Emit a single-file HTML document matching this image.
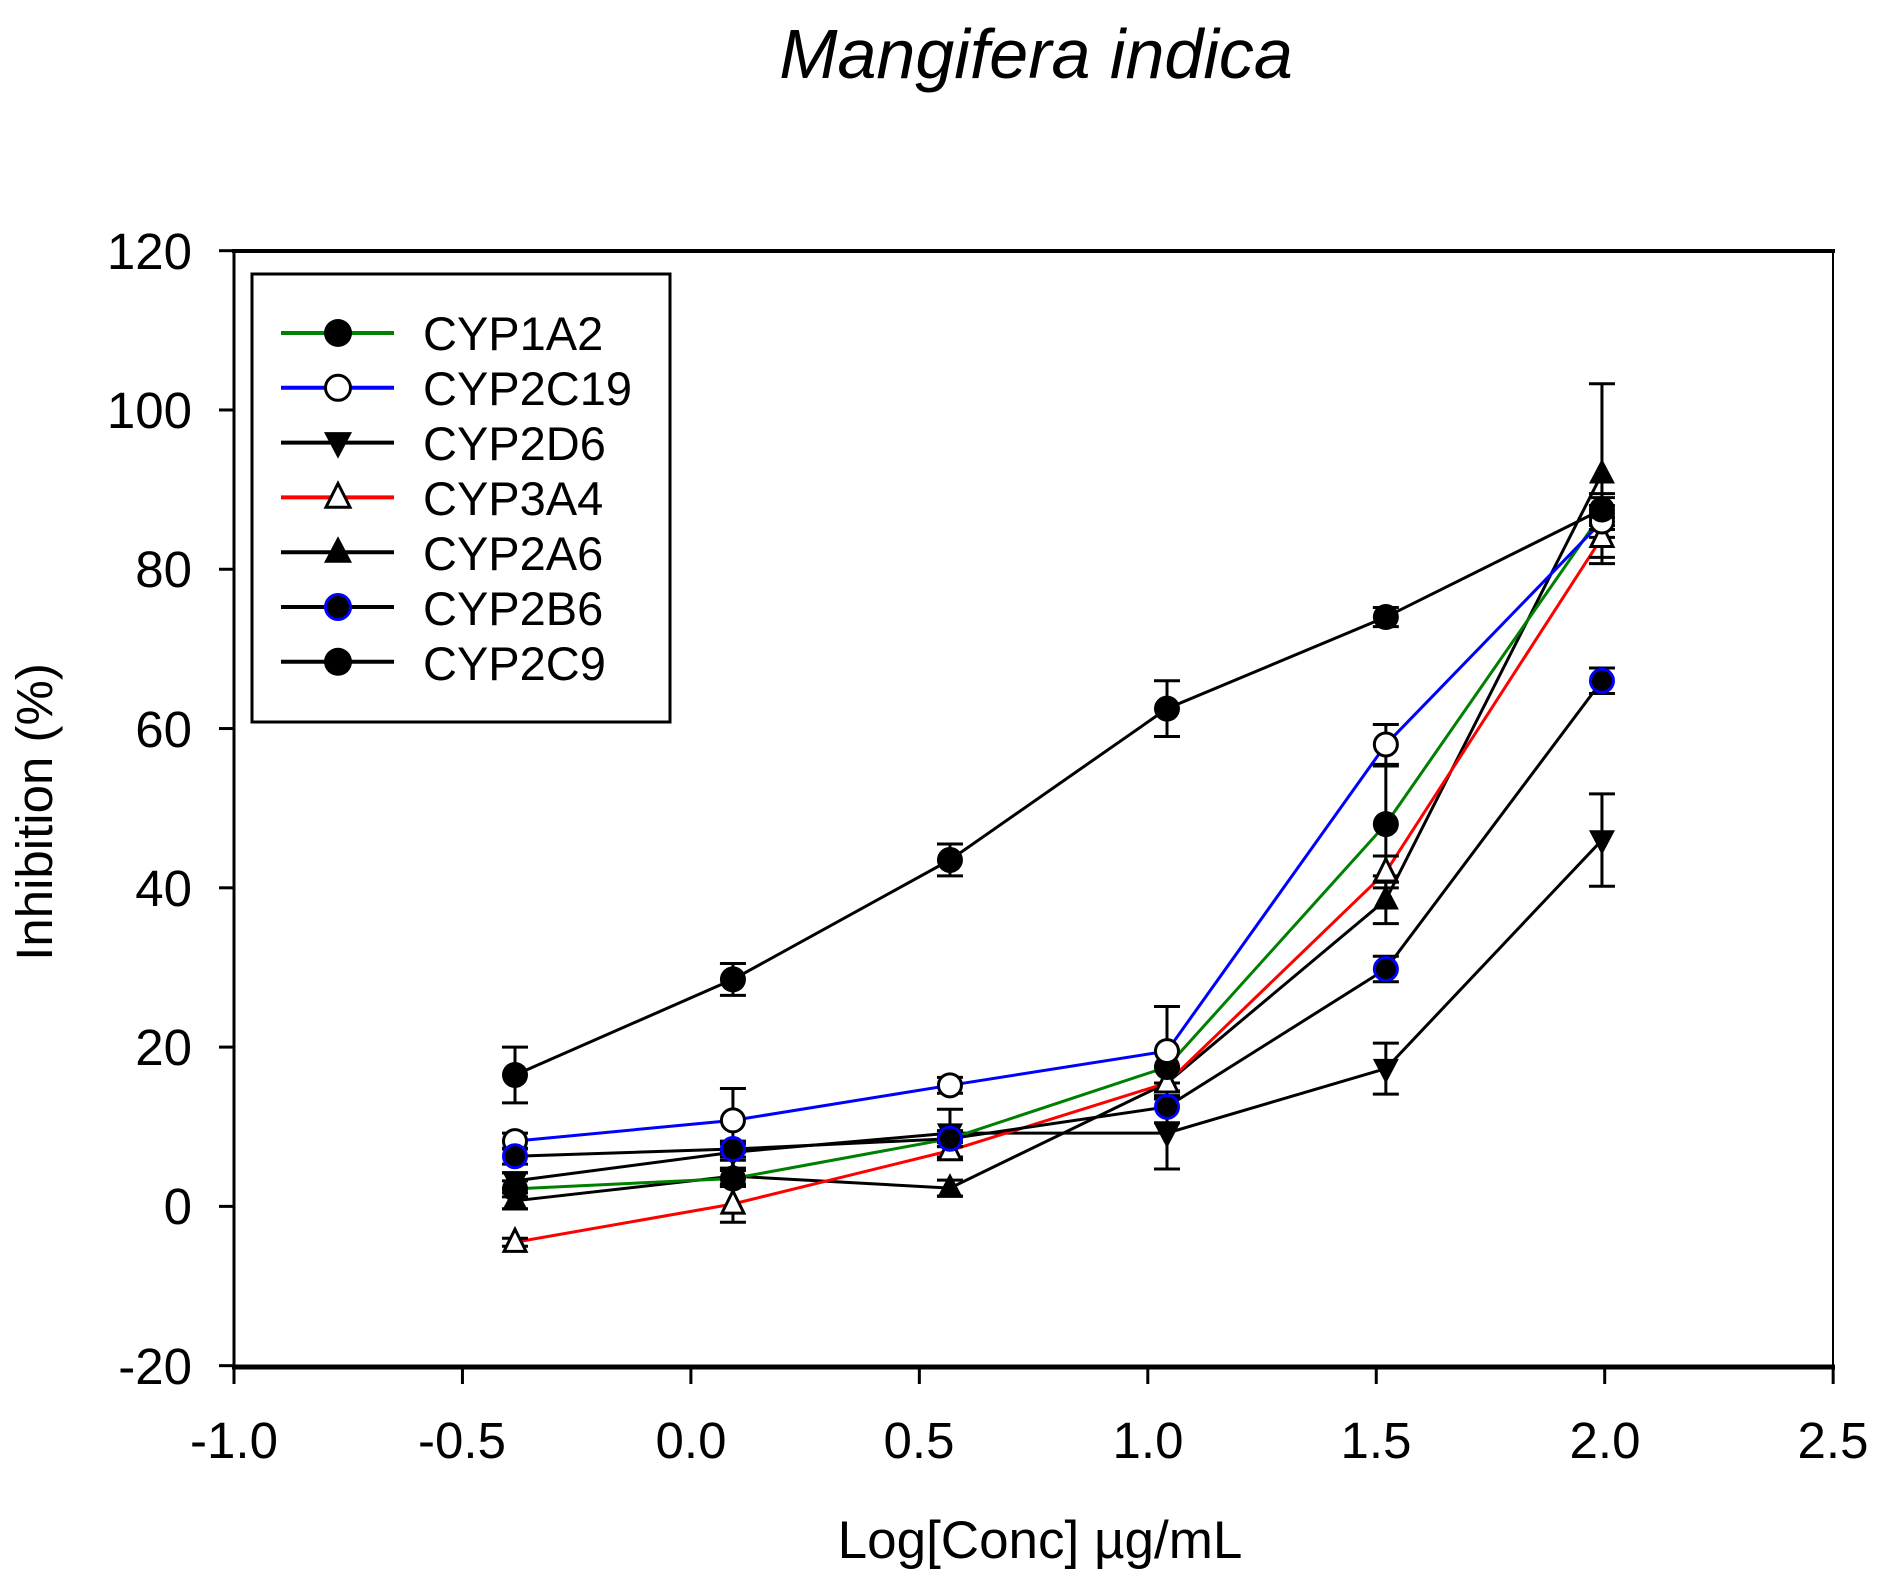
<!DOCTYPE html>
<html><head><meta charset="utf-8"><style>
html,body{margin:0;padding:0;background:#fff;}
svg{display:block;font-family:"Liberation Sans",Arial,sans-serif;}
</style></head><body>
<svg id="s" width="1891" height="1586" viewBox="0 0 1891 1586" xmlns="http://www.w3.org/2000/svg">
<rect width="1891" height="1586" fill="#fff"/>
<text x="1036" y="78" font-size="70" font-style="italic" text-anchor="middle">Mangifera indica</text>
<g stroke="#000" fill="none">
<line x1="232" y1="251" x2="1835" y2="251" stroke-width="4"/>
<line x1="232" y1="1367" x2="1835" y2="1367" stroke-width="5"/>
<line x1="234" y1="249" x2="234" y2="1369" stroke-width="3"/>
<line x1="1833" y1="249" x2="1833" y2="1369" stroke-width="2"/>
</g>
<g id="ticks" stroke="#000" stroke-width="3"></g>
<g font-size="51" text-anchor="end">
<text x="192" y="269">120</text><text x="192" y="428">100</text><text x="192" y="587">80</text>
<text x="192" y="747">60</text><text x="192" y="906">40</text><text x="192" y="1065">20</text>
<text x="192" y="1224">0</text><text x="192" y="1384">-20</text>
</g>
<g font-size="51" text-anchor="middle">
<text x="234" y="1458">-1.0</text><text x="462" y="1458">-0.5</text><text x="691" y="1458">0.0</text>
<text x="919" y="1458">0.5</text><text x="1148" y="1458">1.0</text><text x="1376" y="1458">1.5</text>
<text x="1605" y="1458">2.0</text><text x="1833" y="1458">2.5</text>
</g>
<text x="1040" y="1558" font-size="53" text-anchor="middle">Log[Conc] µg/mL</text>
<text transform="translate(52,812) rotate(-90)" font-size="51" text-anchor="middle">Inhibition (%)</text>
<g id="data"></g>
<rect x="252" y="274" width="418" height="448" fill="#fff" stroke="#000" stroke-width="3"/>
<g id="leg"></g>
<g font-size="47">
<text x="423" y="350">CYP1A2</text><text x="423" y="405">CYP2C19</text><text x="423" y="460">CYP2D6</text>
<text x="423" y="515">CYP3A4</text><text x="423" y="570">CYP2A6</text><text x="423" y="625">CYP2B6</text>
<text x="423" y="680">CYP2C9</text>
</g>
</svg>
<script>
const NS="http://www.w3.org/2000/svg";
function el(p,t,a){const e=document.createElementNS(NS,t);for(const k in a)e.setAttribute(k,a[k]);p.appendChild(e);return e;}
const Y=v=>250.7+(120-v)*7.964, X=u=>234+(u+1)*456.9;
const tk=document.getElementById('ticks');
for(let v=-20;v<=120;v+=20)el(tk,'line',{x1:219,x2:234,y1:Y(v),y2:Y(v)});
for(let u=-1;u<=2.51;u+=0.5)el(tk,'line',{x1:X(u),x2:X(u),y1:1367,y2:1384});
const xs=[-0.385,0.092,0.567,1.042,1.521,1.994];
const S=[
 {c:'#000',m:'dtri',y:[3.2,6.8,9.2,9.2,17.3,46],e:[1,1,3,4.5,3.2,5.8]},
 {c:'#000',m:'tri',y:[0.7,3.8,2.3,15.5,38.5,92],e:[1,1,1,2,3,11.3]},
 {c:'#ff0000',m:'otri',y:[-4.5,0.3,7,15.5,42,84],e:[0.5,2.3,1,2,2,2.5]},
 {c:'#008000',m:'dot',y:[2.2,3.5,8.5,17.5,48,87],e:[1,1,1,2,7.3,2]},
 {c:'#0000ff',m:'ocirc',y:[8.2,10.8,15.2,19.5,58,86],e:[1,4,1,5.6,2.5,2]},
 {c:'#000',m:'bdot',y:[6.3,7.2,8.5,12.5,29.8,66],e:[1,1,1,2,1.6,1.6]},
 {c:'#000',m:'dot',y:[16.5,28.5,43.5,62.5,74,87.5],e:[3.5,2,2,3.5,1.2,2]},
];
function marker(g,m,x,y,r){
 if(m==='dot')el(g,'circle',{cx:x,cy:y,r:r,fill:'#000'});
 else if(m==='ocirc')el(g,'circle',{cx:x,cy:y,r:r-1.5,fill:'#fff',stroke:'#000','stroke-width':3});
 else if(m==='bdot')el(g,'circle',{cx:x,cy:y,r:r-1.5,fill:'#000',stroke:'#0000ff','stroke-width':3});
 else if(m==='tri')el(g,'polygon',{points:`${x},${y-r-2} ${x-r},${y+r*0.75} ${x+r},${y+r*0.75}`,fill:'#000'});
 else if(m==='otri')el(g,'polygon',{points:`${x},${y-r} ${x-r+2},${y+r*0.7} ${x+r-2},${y+r*0.7}`,fill:'#fff',stroke:'#000','stroke-width':3});
 else if(m==='dtri')el(g,'polygon',{points:`${x},${y+r+2} ${x-r},${y-r*0.75} ${x+r},${y-r*0.75}`,fill:'#000'});
}
const d=document.getElementById('data');
S.forEach(s=>{
 el(d,'polyline',{points:xs.map((u,i)=>X(u)+','+Y(s.y[i])).join(' '),fill:'none',stroke:s.c,'stroke-width':3});
});
S.forEach(s=>{xs.forEach((u,i)=>{const x=X(u),y0=Y(s.y[i]-s.e[i]),y1=Y(s.y[i]+s.e[i]);
 el(d,'line',{x1:x,x2:x,y1:y0,y2:y1,stroke:'#000','stroke-width':3});
 el(d,'line',{x1:x-13,x2:x+13,y1:y0,y2:y0,stroke:'#000','stroke-width':3});
 el(d,'line',{x1:x-13,x2:x+13,y1:y1,y2:y1,stroke:'#000','stroke-width':3});});});
S.forEach(s=>{xs.forEach((u,i)=>marker(d,s.m,X(u),Y(s.y[i]),13));});
const lg=document.getElementById('leg');
const L=[['#008000','dot'],['#0000ff','ocirc'],['#000','dtri'],['#ff0000','otri'],['#000','tri'],['#000','bdot'],['#000','dot']];
L.forEach((l,i)=>{const y=333+i*54.8;
 el(lg,'line',{x1:281,x2:394,y1:y,y2:y,stroke:l[0],'stroke-width':4});
 marker(lg,l[1],338,y,14);});
</script>
</body></html>
